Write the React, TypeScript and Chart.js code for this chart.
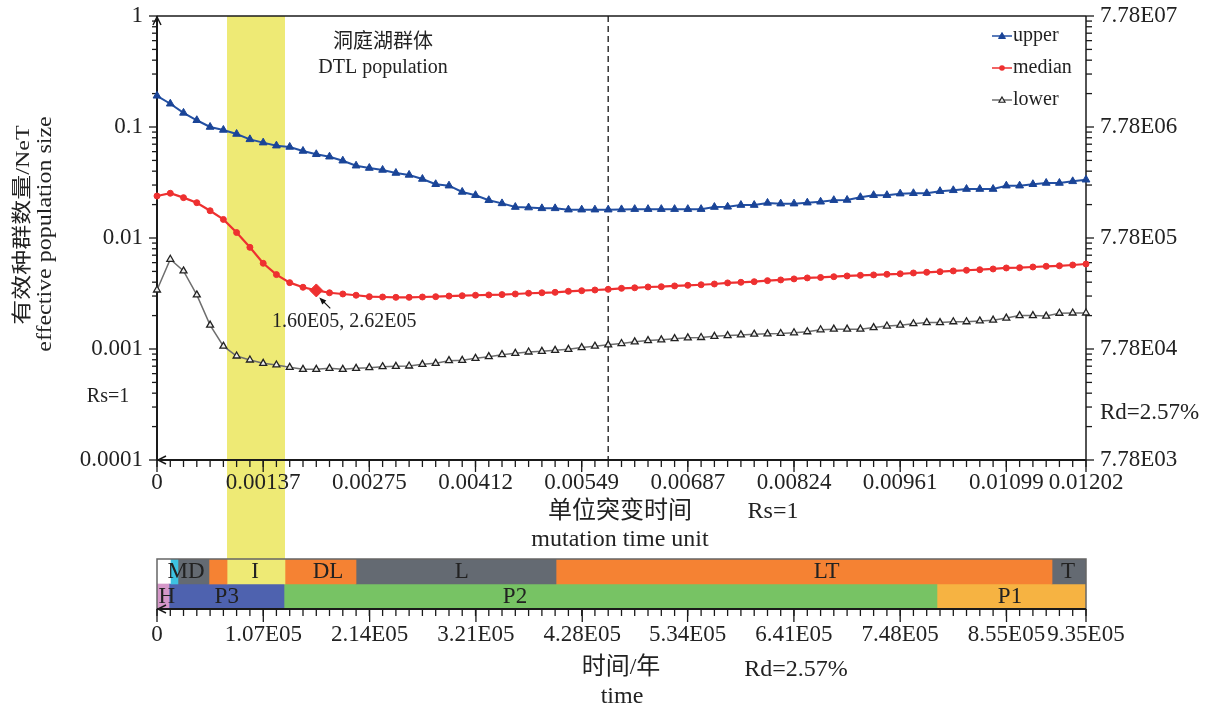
import React, { useEffect, useRef } from 'react';
import { Chart, registerables } from 'chart.js';

Chart.register(...registerables);

// ---------- data ----------
const xUnits = [
  0, 0.000172, 0.000343, 0.000515, 0.000687, 0.000859, 0.00103, 0.001202, 0.001374, 0.001545,
  0.001717, 0.001889, 0.002061, 0.002232, 0.002404, 0.002576, 0.002747, 0.002919, 0.003091, 0.003262,
  0.003434, 0.003606, 0.003778, 0.003949, 0.004121, 0.004293, 0.004464, 0.004636, 0.004808, 0.00498,
  0.005151, 0.005323, 0.005495, 0.005666, 0.005838, 0.00601, 0.006181, 0.006353, 0.006525, 0.006697,
  0.006868, 0.00704, 0.007212, 0.007383, 0.007555, 0.007727, 0.007899, 0.00807, 0.008242, 0.008414,
  0.008586, 0.008757, 0.008929, 0.009101, 0.009272, 0.009444, 0.009616, 0.009787, 0.009959, 0.010131,
  0.010303, 0.010474, 0.010646, 0.010818, 0.010989, 0.011161, 0.011333, 0.011505, 0.011676, 0.011848,
  0.01202,
];

const upper = [
  0.191, 0.162, 0.134, 0.115, 0.1, 0.094, 0.0865, 0.0774, 0.0723, 0.0679,
  0.0661, 0.0608, 0.0568, 0.054, 0.0497, 0.0448, 0.0427, 0.041, 0.0385, 0.037,
  0.034, 0.0305, 0.0296, 0.026, 0.0243, 0.0219, 0.0205, 0.019, 0.0188, 0.0185,
  0.0185, 0.018, 0.018, 0.018, 0.018, 0.0181, 0.0182, 0.0182, 0.0182, 0.0182,
  0.0182, 0.0182, 0.019, 0.0191, 0.0198, 0.0198, 0.0207, 0.0204, 0.0204, 0.0208,
  0.0212, 0.0219, 0.022, 0.0233, 0.0243, 0.0243, 0.0251, 0.0253, 0.0253, 0.0264,
  0.0269, 0.0276, 0.0276, 0.0276, 0.0296, 0.0296, 0.0305, 0.0313, 0.0313, 0.0324,
  0.0335,
];

const median = [
  0.0239, 0.0253, 0.0231, 0.0208, 0.0176, 0.0147, 0.0112, 0.00824, 0.00592, 0.00468,
  0.00396, 0.0036, 0.00337, 0.00321, 0.00313, 0.00305, 0.00296, 0.00294, 0.00292, 0.00292,
  0.00294, 0.00296, 0.003, 0.00302, 0.00305, 0.00307, 0.00309, 0.00313, 0.00318, 0.00321,
  0.00324, 0.00331, 0.00335, 0.0034, 0.00345, 0.00352, 0.00356, 0.00362, 0.00364, 0.0037,
  0.00375, 0.00379, 0.00385, 0.00394, 0.00399, 0.00404, 0.00413, 0.00419, 0.00428, 0.00437,
  0.00441, 0.00448, 0.00455, 0.00461, 0.00465, 0.00471, 0.00476, 0.00484, 0.00491, 0.00497,
  0.00505, 0.00512, 0.00518, 0.00526, 0.00537, 0.0054, 0.00548, 0.00556, 0.00562, 0.00571,
  0.00583,
];

const lower = [
  0.0034, 0.00643, 0.00505, 0.00307, 0.00164, 0.00106, 0.000865, 0.000796, 0.000743, 0.000718,
  0.000684, 0.000656, 0.000656, 0.00067, 0.000656, 0.00067, 0.000679, 0.000693, 0.000698, 0.000703,
  0.000728, 0.000743, 0.000785, 0.000791, 0.000824, 0.000853, 0.000889, 0.000914, 0.00094, 0.000953,
  0.000972, 0.000993, 0.00103, 0.00106, 0.00109, 0.00112, 0.00116, 0.00119, 0.00121, 0.00124,
  0.00126, 0.00127, 0.0013, 0.00132, 0.00134, 0.00136, 0.00137, 0.00138, 0.0014, 0.00143,
  0.00149, 0.00151, 0.00151, 0.00151, 0.00156, 0.00161, 0.00164, 0.00169, 0.00173, 0.00173,
  0.00176, 0.00176, 0.00179, 0.00182, 0.0019, 0.002, 0.002, 0.00198, 0.0021, 0.00211,
  0.00211,
];

const seriesNames = ['upper', 'median', 'lower'];

const xTickValues = [0, 0.001374, 0.002747, 0.004121, 0.005495, 0.006868, 0.008242, 0.009616, 0.010989, 0.01202];
const xTickLabels = ['0', '0.00137', '0.00275', '0.00412', '0.00549', '0.00687', '0.00824', '0.00961', '0.01099', '0.01202'];
const yTickValues = [1, 0.1, 0.01, 0.001, 0.0001];
const yTickLabels = ['1', '0.1', '0.01', '0.001', '0.0001'];
const y2TickValues = [7.78e7, 7.78e6, 7.78e5, 7.78e4, 7.78e3];
const y2TickLabels = ['7.78E07', '7.78E06', '7.78E05', '7.78E04', '7.78E03'];
const timeTickValues = [0, 107000, 214000, 321000, 428000, 534000, 641000, 748000, 855000, 935000];
const timeTickLabels = ['0', '1.07E05', '2.14E05', '3.21E05', '4.28E05', '5.34E05', '6.41E05', '7.48E05', '8.55E05', '9.35E05'];

const unitsMax = 0.01202;
const yearsMax = 935000;
const dashedLineX = 0.005838;
const yellowBand = [0.000906, 0.001656];
const highlightIndex = 12;
const highlightLabel = '1.60E05, 2.62E05';

const stageStarts = [14100, 21100, 52300, 70500, 128800, 200300, 401600, 900800];
const stageEnds = [21100, 52300, 70500, 128800, 200300, 401600, 900800, 935000];
const stageColors = ['#3DC2E2', '#646A72', '#F58233', '#EEEA75', '#F58233', '#646A72', '#F58233', '#646A72'];
const stageLabels = ['MD', 'I', 'DL', 'L', 'LT', 'T'];
const stageLabelPos = [29200, 98600, 172100, 306700, 674000, 916900];

const periodStarts = [0, 12100, 127800, 785000];
const periodEnds = [12100, 127800, 785000, 935000];
const periodColors = ['#D597C9', '#4E62AF', '#77C364', '#F6B342'];
const periodLabels = ['H', 'P3', 'P2', 'P1'];
const periodLabelPos = [9800, 70200, 360300, 858500];

// ---------- style ----------
const serif = '"Liberation Serif", "Noto Sans CJK SC", serif';
const tickFont = { family: serif, size: 23 };
const ink = '#1a1a1a';
const yellow = '#EEEA75';
const upperColor = '#2350A3';
const medianColor = '#EE3030';
const lowerColor = '#6E6E6E';

function seg(ctx: CanvasRenderingContext2D, x1: number, y1: number, x2: number, y2: number) {
  ctx.beginPath();
  ctx.moveTo(x1, y1);
  ctx.lineTo(x2, y2);
  ctx.stroke();
}

function txt(ctx: CanvasRenderingContext2D, s: string, x: number, y: number, size: number, align: CanvasTextAlign = 'center') {
  ctx.font = `${size}px ${serif}`;
  ctx.fillStyle = '#222';
  ctx.textAlign = align;
  ctx.textBaseline = 'middle';
  ctx.fillText(s, x, y);
}

// draw several text runs (different sizes) centred as one line
function runs(ctx: CanvasRenderingContext2D, parts: [string, number][], cx: number, cy: number) {
  let total = 0;
  const widths = parts.map(([s, size]) => {
    ctx.font = `${size}px ${serif}`;
    const w = ctx.measureText(s).width;
    total += w;
    return w;
  });
  let x = cx - total / 2;
  parts.forEach(([s, size], i) => {
    txt(ctx, s, x, cy, size, 'left');
    x += widths[i];
  });
}

function triangle(ctx: CanvasRenderingContext2D, x: number, y: number, r: number, fill: string, stroke: string, lw: number) {
  ctx.beginPath();
  ctx.moveTo(x, y - r);
  ctx.lineTo(x + r * 0.866, y + r * 0.5);
  ctx.lineTo(x - r * 0.866, y + r * 0.5);
  ctx.closePath();
  ctx.fillStyle = fill;
  ctx.fill();
  ctx.lineWidth = lw;
  ctx.strokeStyle = stroke;
  ctx.stroke();
}

const topPlugin = {
  id: 'topDecor',
  beforeDraw(chart: any) {
    const { ctx, chartArea } = chart;
    const xs = chart.scales.x;
    const a = xs.getPixelForValue(yellowBand[0]);
    const b = xs.getPixelForValue(yellowBand[1]);
    ctx.save();
    ctx.fillStyle = yellow;
    ctx.fillRect(a, chartArea.top, b - a, chart.height - chartArea.top);
    ctx.restore();
  },
  beforeDatasetsDraw(chart: any) {
    const { ctx, chartArea } = chart;
    const { left, right, top, bottom } = chartArea;
    const xs = chart.scales.x, ys = chart.scales.y, y2 = chart.scales.y2;
    ctx.save();
    ctx.lineCap = 'butt';
    // dashed line
    const dx = xs.getPixelForValue(dashedLineX);
    ctx.setLineDash([6, 4]);
    ctx.lineWidth = 1.5;
    ctx.strokeStyle = '#333';
    seg(ctx, dx, top, dx, bottom);
    ctx.setLineDash([]);
    ctx.strokeStyle = ink;
    // frame
    ctx.lineWidth = 1.5;
    seg(ctx, left, top, right, top);
    seg(ctx, right, top, right, bottom);
    ctx.lineWidth = 2;
    seg(ctx, left, bottom, left, top);
    seg(ctx, left, bottom, right, bottom);
    ctx.lineWidth = 1.5;
    // arrows
    ctx.beginPath();
    ctx.moveTo(left - 4, top + 9);
    ctx.lineTo(left, top + 1);
    ctx.lineTo(left + 4, top + 9);
    ctx.stroke();
    ctx.beginPath();
    ctx.moveTo(left + 9, bottom - 4);
    ctx.lineTo(left + 1, bottom);
    ctx.lineTo(left + 9, bottom + 4);
    ctx.stroke();
    // x ticks
    ctx.lineWidth = 1.3;
    xUnits.forEach((v) => {
      const p = xs.getPixelForValue(v);
      seg(ctx, p, bottom, p, bottom + 7);
    });
    xTickValues.forEach((v) => {
      const p = xs.getPixelForValue(v);
      seg(ctx, p, bottom, p, bottom + 12);
    });
    // y ticks (left and right)
    yTickValues.forEach((v) => {
      const p = ys.getPixelForValue(v);
      seg(ctx, left - 8, p, left, p);
    });
    y2TickValues.forEach((v) => {
      const p = y2.getPixelForValue(v);
      seg(ctx, right, p, right + 8, p);
    });
    for (let d = 0; d < 4; d++) {
      for (let k = 2; k <= 9; k++) {
        const pl = ys.getPixelForValue(yTickValues[4 - d] * k);
        seg(ctx, left - 5, pl, left, pl);
        const pr = y2.getPixelForValue(y2TickValues[4 - d] * k);
        seg(ctx, right, pr, right + 6, pr);
      }
    }
    ctx.restore();
  },
  afterDraw(chart: any) {
    const { ctx } = chart;
    const xs = chart.scales.x, ys = chart.scales.y;
    ctx.save();
    // y-axis titles (rotated, slightly narrow glyphs as in the reference)
    ctx.save();
    ctx.translate(24, 225);
    ctx.rotate(-Math.PI / 2);
    ctx.scale(1, 0.8);
    runs(ctx, [['有效种群数量', 25], ['/NeT', 24]], 0, 0);
    ctx.restore();
    ctx.save();
    ctx.translate(45, 234);
    ctx.rotate(-Math.PI / 2);
    ctx.scale(1, 0.88);
    txt(ctx, 'effective population size', 0, 0, 24);
    ctx.restore();
    // annotation
    txt(ctx, '洞庭湖群体', 383, 43, 20);
    txt(ctx, 'DTL population', 383, 68, 20);
    // legend
    const ds = chart.data.datasets;
    ds.forEach((d: any, i: number) => {
      const y = 36 + 32 * i;
      ctx.strokeStyle = d.borderColor;
      ctx.lineWidth = 1.5;
      seg(ctx, 992, y, 1012, y);
      if (i === 0) triangle(ctx, 1002, y + 0.5, 4, d.pointBackgroundColor, d.pointBackgroundColor, 1);
      else if (i === 1) {
        ctx.beginPath();
        ctx.arc(1002, y, 2.8, 0, Math.PI * 2);
        ctx.fillStyle = medianColor;
        ctx.fill();
      } else triangle(ctx, 1002, y + 0.5, 3.5, '#eee', '#222', 1.2);
      txt(ctx, d.label, 1013, y, 20, 'left');
    });
    // side texts
    txt(ctx, 'Rs=1', 108, 397, 20);
    txt(ctx, 'Rd=2.57%', 1100, 413, 23, 'left');
    // x titles
    txt(ctx, '单位突变时间', 620, 512, 24);
    txt(ctx, 'Rs=1', 773, 512, 24);
    txt(ctx, 'mutation time unit', 620, 540, 24);
    // highlighted point label with arrow
    const px = xs.getPixelForValue(xUnits[highlightIndex]);
    const py = ys.getPixelForValue(median[highlightIndex]);
    ctx.strokeStyle = '#111';
    ctx.fillStyle = '#111';
    ctx.lineWidth = 1.2;
    seg(ctx, px + 14, py + 18, px + 6, py + 10);
    ctx.beginPath();
    ctx.moveTo(px + 3, py + 7);
    ctx.lineTo(px + 10, py + 10);
    ctx.lineTo(px + 6, py + 14);
    ctx.closePath();
    ctx.fill();
    txt(ctx, highlightLabel, px + 28, py + 31, 20);
    ctx.restore();
  },
};

const botPlugin = {
  id: 'botDecor',
  beforeDraw(chart: any) {
    const { ctx, chartArea } = chart;
    const xs = chart.scales.x;
    const a = xs.getPixelForValue(stageStarts[3]);
    const b = xs.getPixelForValue(stageEnds[3]);
    ctx.save();
    ctx.fillStyle = yellow;
    ctx.fillRect(a, 0, b - a, chartArea.top);
    ctx.restore();
  },
  afterDatasetsDraw(chart: any) {
    const { ctx, chartArea } = chart;
    const { left, right, top, bottom } = chartArea;
    const xs = chart.scales.x, ys = chart.scales.y;
    ctx.save();
    // frame
    ctx.strokeStyle = '#666';
    ctx.lineWidth = 1.5;
    ctx.strokeRect(left, top, right - left, bottom - top);
    // labels
    const r1 = ys.getPixelForValue(0);
    const r2 = ys.getPixelForValue(1);
    stageLabels.forEach((s, i) => txt(ctx, s, xs.getPixelForValue(stageLabelPos[i]), r1, 23));
    periodLabels.forEach((s, i) => txt(ctx, s, xs.getPixelForValue(periodLabelPos[i]), r2, 23));
    // axis
    ctx.strokeStyle = ink;
    ctx.lineWidth = 2;
    seg(ctx, left, bottom, right, bottom);
    ctx.lineWidth = 1.5;
    ctx.beginPath();
    ctx.moveTo(left + 9, bottom - 4);
    ctx.lineTo(left + 1, bottom);
    ctx.lineTo(left + 9, bottom + 4);
    ctx.stroke();
    ctx.lineWidth = 1.3;
    xUnits.forEach((v) => {
      const p = xs.getPixelForValue((v * yearsMax) / unitsMax);
      seg(ctx, p, bottom, p, bottom + 7);
    });
    timeTickValues.forEach((v) => {
      const p = xs.getPixelForValue(v);
      seg(ctx, p, bottom, p, bottom + 13);
    });
    ctx.restore();
  },
  afterDraw(chart: any) {
    const { ctx } = chart;
    ctx.save();
    txt(ctx, '时间/年', 621, 118, 24);
    txt(ctx, 'Rd=2.57%', 796, 120, 24);
    txt(ctx, 'time', 622, 147, 24);
    ctx.restore();
  },
};

const noVPad = (w: number) => (s: any) => {
  s.width = w;
  s.paddingTop = 0;
  s.paddingBottom = 0;
};

export default function App() {
  const topRef = useRef<HTMLCanvasElement>(null);
  const botRef = useRef<HTMLCanvasElement>(null);

  useEffect(() => {
    const pts = (arr: number[]) => xUnits.map((x, i) => ({ x, y: arr[i] }));
    const c1 = new Chart(topRef.current as HTMLCanvasElement, {
      type: 'line',
      data: {
        datasets: [
          {
            label: seriesNames[0],
            data: pts(upper),
            borderColor: upperColor,
            borderWidth: 2,
            pointStyle: 'triangle',
            pointRadius: 4.5,
            pointBackgroundColor: '#1A4497',
            pointBorderColor: '#1A4497',
            pointBorderWidth: 1,
            tension: 0,
            clip: false,
          },
          {
            label: seriesNames[1],
            data: pts(median),
            borderColor: medianColor,
            borderWidth: 2.2,
            pointStyle: (c: any) => (c.dataIndex === highlightIndex ? 'rectRot' : 'circle'),
            pointRadius: (c: any) => (c.dataIndex === highlightIndex ? 6.5 : 3),
            pointBackgroundColor: medianColor,
            pointBorderColor: medianColor,
            pointBorderWidth: 1,
            tension: 0,
            clip: false,
          },
          {
            label: seriesNames[2],
            data: pts(lower),
            borderColor: lowerColor,
            borderWidth: 1.5,
            pointStyle: 'triangle',
            pointRadius: 4,
            pointBackgroundColor: '#eeeeee',
            pointBorderColor: '#222',
            pointBorderWidth: 1.3,
            tension: 0,
            clip: false,
          },
        ],
      } as any,
      options: {
        responsive: false,
        animation: false,
        devicePixelRatio: 1,
        events: [],
        layout: { padding: { top: 16, left: 0, right: 0, bottom: 0 } },
        plugins: { legend: { display: false }, tooltip: { enabled: false } },
        scales: {
          x: {
            type: 'linear',
            position: 'bottom',
            min: 0,
            max: unitsMax,
            grid: { display: false, drawTicks: false },
            border: { display: false },
            afterBuildTicks: (s: any) => {
              s.ticks = xTickValues.map((v) => ({ value: v }));
            },
            afterFit: (s: any) => {
              s.height = 90;
              s.paddingLeft = 0;
              s.paddingRight = 0;
            },
            ticks: {
              autoSkip: false,
              maxRotation: 0,
              minRotation: 0,
              padding: 9,
              font: tickFont,
              color: '#222',
              callback: (_v: any, i: number) => xTickLabels[i],
            },
          },
          y: {
            type: 'logarithmic',
            position: 'left',
            min: 0.0001,
            max: 1,
            grid: { display: false, drawTicks: false },
            border: { display: false },
            afterBuildTicks: (s: any) => {
              s.ticks = yTickValues.map((v) => ({ value: v }));
            },
            afterFit: noVPad(157),
            ticks: {
              autoSkip: false,
              padding: 14,
              font: tickFont,
              color: '#222',
              callback: (_v: any, i: number) => yTickLabels[i],
            },
          },
          y2: {
            type: 'logarithmic',
            position: 'right',
            min: 7780,
            max: 77800000,
            grid: { display: false, drawTicks: false },
            border: { display: false },
            afterBuildTicks: (s: any) => {
              s.ticks = y2TickValues.map((v) => ({ value: v }));
            },
            afterFit: noVPad(124),
            ticks: {
              autoSkip: false,
              padding: 14,
              font: tickFont,
              color: '#222',
              callback: (_v: any, i: number) => y2TickLabels[i],
            },
          },
        },
      } as any,
      plugins: [topPlugin],
    });

    const stageSets = stageStarts.map((s, i) => ({
      label: 'stage' + i,
      data: [[s, stageEnds[i]], null],
      backgroundColor: stageColors[i],
      borderWidth: 0,
      grouped: false,
      barPercentage: 1,
      categoryPercentage: 1,
    }));
    const periodSets = periodStarts.map((s, i) => ({
      label: 'period' + i,
      data: [null, [s, periodEnds[i]]],
      backgroundColor: periodColors[i],
      borderWidth: 0,
      grouped: false,
      barPercentage: 1,
      categoryPercentage: 1,
    }));

    const c2 = new Chart(botRef.current as HTMLCanvasElement, {
      type: 'bar',
      data: { labels: ['stage', 'period'], datasets: [...stageSets, ...periodSets] } as any,
      options: {
        indexAxis: 'y',
        responsive: false,
        animation: false,
        devicePixelRatio: 1,
        events: [],
        layout: { padding: { top: 9, left: 157, right: 124, bottom: 0 } },
        plugins: { legend: { display: false }, tooltip: { enabled: false } },
        scales: {
          y: { type: 'category', display: false },
          x: {
            type: 'linear',
            position: 'bottom',
            min: 0,
            max: yearsMax,
            grid: { display: false, drawTicks: false },
            border: { display: false },
            afterBuildTicks: (s: any) => {
              s.ticks = timeTickValues.map((v) => ({ value: v }));
            },
            afterFit: (s: any) => {
              s.height = 102;
            },
            ticks: {
              autoSkip: false,
              maxRotation: 0,
              minRotation: 0,
              padding: 12,
              font: tickFont,
              color: '#222',
              callback: (_v: any, i: number) => timeTickLabels[i],
            },
          },
        },
      } as any,
      plugins: [botPlugin],
    });

    return () => {
      c1.destroy();
      c2.destroy();
    };
  }, []);

  return (
    <div style={{ position: 'absolute', left: 0, top: 0, width: 1210, height: 711, background: '#fff' }}>
      <canvas
        ref={topRef}
        width={1210}
        height={550}
        style={{ position: 'absolute', left: 0, top: 0, width: 1210, height: 550 }}
      />
      <canvas
        ref={botRef}
        width={1210}
        height={161}
        style={{ position: 'absolute', left: 0, top: 550, width: 1210, height: 161 }}
      />
    </div>
  );
}
